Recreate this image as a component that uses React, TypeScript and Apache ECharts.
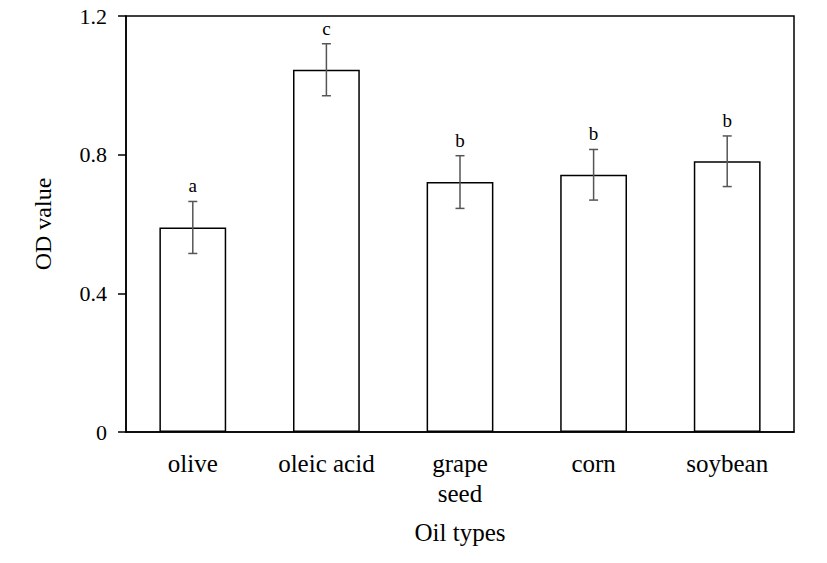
import React, { useEffect, useRef } from "react";
import * as echarts from "echarts";

const categories = ["olive", "oleic acid", "grape\nseed", "corn", "soybean"];
const odValues = [0.59, 1.045, 0.721, 0.742, 0.781];
const errValues = [0.075, 0.075, 0.076, 0.073, 0.073];
const groupLetters = ["a", "c", "b", "b", "b"];
const yTicks = [0, 0.4, 0.8, 1.2];

const FONT = "Liberation Serif";

export default function App() {
  const ref = useRef<HTMLDivElement>(null);
  useEffect(() => {
    if (!ref.current) return;
    const chart = echarts.init(ref.current, undefined, { renderer: "svg" });
    const errData = odValues.map((v, i) => [i, v, errValues[i]]);
    chart.setOption({
      animation: false,
      backgroundColor: "#ffffff",
      grid: {
        left: 126,
        right: 33,
        top: 16,
        bottom: 131,
        show: true,
        borderColor: "#000",
        borderWidth: 1.5,
        backgroundColor: "transparent",
      },
      xAxis: {
        type: "category",
        data: categories,
        name: "Oil types",
        nameLocation: "middle",
        nameGap: 88,
        nameTextStyle: { fontFamily: FONT, fontSize: 25, color: "#000" },
        axisLine: { lineStyle: { color: "#000", width: 1.5 } },
        axisTick: { alignWithLabel: true, length: 6, lineStyle: { color: "#000", width: 1.5 } },
        axisLabel: {
          fontFamily: FONT,
          fontSize: 25,
          color: "#000",
          margin: 16,
          lineHeight: 30,
          interval: 0,
        },
      },
      yAxis: {
        type: "value",
        min: 0,
        max: 1.2,
        interval: 0.4,
        name: "OD value",
        nameLocation: "middle",
        nameGap: 71,
        nameTextStyle: { fontFamily: FONT, fontSize: 24, color: "#000" },
        splitLine: { show: false },
        axisLine: { show: true, lineStyle: { color: "#000", width: 1.5 } },
        axisTick: { show: true, length: 8, lineStyle: { color: "#000", width: 1.5 } },
        axisLabel: {
          fontFamily: FONT,
          fontSize: 22,
          color: "#000",
          margin: 19,
          formatter: (v: number) => {
            const t = yTicks.find((x) => Math.abs(x - v) < 1e-9);
            return t === 0 ? "0" : (t ?? v).toFixed(1);
          },
        },
      },
      series: [
        {
          type: "bar",
          data: odValues,
          barWidth: "50%",
          itemStyle: { color: "#fff", borderColor: "#000", borderWidth: 1.5 },
          z: 2,
        },
        {
          type: "custom",
          data: errData,
          z: 3,
          renderItem: (params: any, api: any) => {
            const i = api.value(0);
            const v = api.value(1);
            const e = api.value(2);
            const letter = groupLetters[params.dataIndex];
            const top = api.coord([i, v + e]);
            const bot = api.coord([i, v - e]);
            const x = top[0];
            const cap = 4.5;
            const ls = { stroke: "#555", lineWidth: 1.5 };
            return {
              type: "group",
              children: [
                { type: "line", shape: { x1: x, y1: top[1], x2: x, y2: bot[1] }, style: ls },
                { type: "line", shape: { x1: x - cap, y1: top[1], x2: x + cap, y2: top[1] }, style: ls },
                { type: "line", shape: { x1: x - cap, y1: bot[1], x2: x + cap, y2: bot[1] }, style: ls },
                {
                  type: "text",
                  x: x,
                  y: top[1] - 6,
                  style: {
                    text: letter,
                    fontFamily: FONT,
                    fontSize: 19,
                    fill: "#000",
                    align: "center",
                    verticalAlign: "bottom",
                  },
                },
              ],
            };
          },
        },
      ],
    });
    return () => chart.dispose();
  }, []);
  return <div ref={ref} style={{ width: 827, height: 563, position: "absolute", left: 0, top: 0 }} />;
}
